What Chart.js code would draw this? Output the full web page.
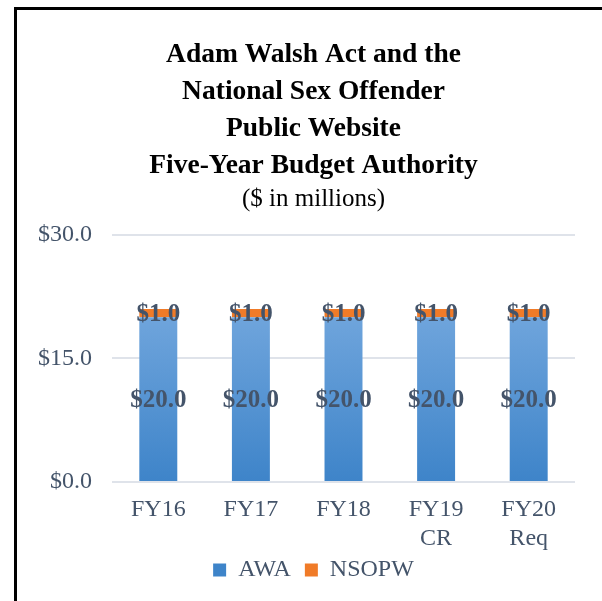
<!DOCTYPE html>
<html>
<head>
<meta charset="utf-8">
<script src="https://cdn.jsdelivr.net/npm/chart.js@4/dist/chart.umd.min.js"></script>
<style>
    html, body { margin: 0; padding: 0; background: #fff; }
    #frame {
        position: absolute;
        left: 14px;
        top: 7px;
        width: 585px;
        height: 591px;
        border-left: 3px solid #000;
        border-top: 3px solid #000;
    }
    canvas { display: block; }
</style>
</head>
<body>
<div id="frame"><canvas id="chart" width="585" height="591"></canvas></div>
<script>
const categories = [['FY16'], ['FY17'], ['FY18'], ['FY19', 'CR'], ['FY20', 'Req']];
const awaValues = [20.0, 20.0, 20.0, 20.0, 20.0];
const nsopwValues = [1.0, 1.0, 1.0, 1.0, 1.0];
const yTicks = [0, 15, 30];

const titleLines = ['Adam Walsh Act and the', 'National Sex Offender', 'Public Website', 'Five-Year Budget Authority'];
const subtitleText = '($ in millions)';

const serif = '"Liberation Serif", "Times New Roman", serif';
const labelColor = '#44546A';

function money(v) {
    return '$' + v.toFixed(1);
}

// blue bars fade from light at top to darker at the base
function awaFill(context) {
    const chart = context.chart;
    if (context.type !== 'data' || !chart.chartArea) return '#5b9bd5';
    const y = chart.scales.y;
    const g = chart.ctx.createLinearGradient(0, y.getPixelForValue(21), 0, y.getPixelForValue(0));
    g.addColorStop(0, '#71a6dd');
    g.addColorStop(1, '#3e84c9');
    return g;
}

const valueLabels = {
    id: 'valueLabels',
    afterDatasetsDraw(chart) {
        const ctx = chart.ctx;
        ctx.save();
        ctx.font = 'bold 25px ' + serif;
        ctx.fillStyle = labelColor;
        ctx.textAlign = 'center';
        ctx.textBaseline = 'middle';
        chart.data.datasets.forEach((ds, i) => {
            const meta = chart.getDatasetMeta(i);
            meta.data.forEach((bar, j) => {
                const p = bar.getProps(['x', 'y', 'base'], true);
                ctx.fillText(money(ds.data[j]), p.x, (p.y + p.base) / 2 + 1);
            });
        });
        ctx.restore();
    }
};

new Chart(document.getElementById('chart'), {
    type: 'bar',
    data: {
        labels: categories,
        datasets: [
            {
                label: 'AWA',
                data: awaValues,
                backgroundColor: awaFill,
                barPercentage: 0.41,
                categoryPercentage: 1,
            },
            {
                label: 'NSOPW',
                data: nsopwValues,
                backgroundColor: '#f07b28',
                barPercentage: 0.41,
                categoryPercentage: 1,
            },
        ],
    },
    options: {
        responsive: false,
        animation: false,
        layout: {
            padding: { left: 35, right: 27, top: 26, bottom: 9 },
        },
        plugins: {
            title: {
                display: true,
                text: titleLines,
                color: '#000',
                font: { family: serif, size: 27.5, weight: 'bold', lineHeight: 1.345 },
                padding: { top: 0, bottom: 0 },
            },
            subtitle: {
                display: true,
                text: subtitleText,
                color: '#000',
                font: { family: serif, size: 25, lineHeight: 1.2 },
                padding: { top: 0, bottom: 21 },
            },
            legend: {
                position: 'bottom',
                labels: {
                    boxWidth: 13,
                    boxHeight: 13,
                    padding: 14,
                    color: labelColor,
                    font: { family: serif, size: 24 },
                },
            },
            tooltip: { enabled: false },
        },
        scales: {
            x: {
                stacked: true,
                grid: { display: false, drawTicks: false },
                border: { display: false },
                ticks: {
                    color: labelColor,
                    font: { family: serif, size: 24, lineHeight: 1.2 },
                    // mirrored so the two-line labels are not clipped where the legend box begins
                    mirror: true,
                    padding: -42,
                    maxRotation: 0,
                },
                afterFit(scale) {
                    scale.height = 62;
                },
            },
            y: {
                stacked: true,
                min: 0,
                max: 30,
                afterBuildTicks(axis) {
                    axis.ticks = yTicks.map(v => ({ value: v }));
                },
                afterFit(scale) {
                    scale.width = 60;
                },
                grid: { color: '#dfe3ea', lineWidth: 2, drawTicks: false },
                border: { display: false },
                ticks: {
                    color: labelColor,
                    font: { family: serif, size: 24 },
                    // mirrored + far alignment keeps labels right-aligned left of the plot without clipping
                    mirror: true,
                    crossAlign: 'far',
                    padding: -74,
                    callback: v => money(v),
                },
            },
        },
    },
    plugins: [valueLabels],
});
</script>
</body>
</html>
